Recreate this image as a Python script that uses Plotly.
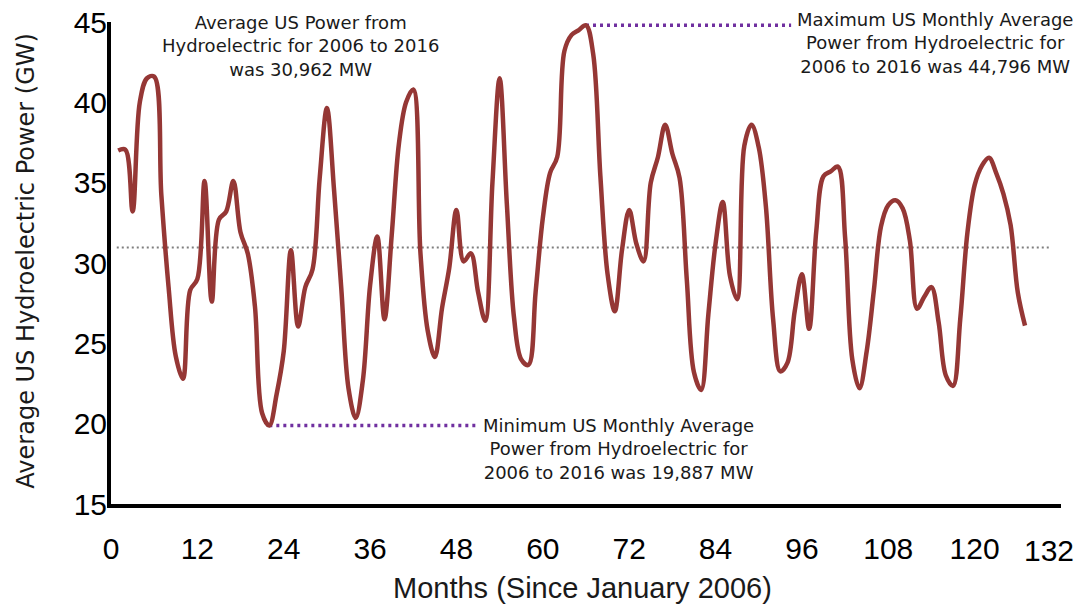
import plotly.graph_objects as go

# ---------------- data ----------------
months = list(range(1, 128))
power_gw = [
    37.0, 37.05, 33.2, 40.0, 41.5, 41.6, 34.2, 28.5, 24.2, 22.8,
    28.3, 29.0, 35.1, 27.6, 32.7, 33.2, 35.1, 31.9, 30.6, 27.3,
    20.65, 19.887, 21.8, 24.5, 30.8, 26.05, 28.5, 29.6, 35.3, 39.65,
    34.5, 28.4, 22.2, 20.35, 22.7, 28.6, 31.65, 26.5, 31.7, 37.4,
    40.0, 40.8, 30.6, 25.8, 24.15, 27.2, 29.7, 33.3, 30.1, 30.6,
    28.2, 26.4, 35.0, 41.5, 33.7, 26.6, 24.0, 23.65, 28.2, 32.8,
    35.6, 36.6, 43.2, 44.2, 44.5, 44.796, 43.0, 35.4, 29.3, 27.0,
    30.8, 33.3, 31.2, 30.1, 35.0, 36.6, 38.6, 36.8, 35.3, 29.0,
    23.2, 22.1, 26.8, 31.2, 33.8, 29.2, 27.75, 37.3, 38.6, 37.2,
    33.5, 26.5, 23.25, 23.8, 27.0, 29.3, 25.9, 32.0, 35.4, 35.7,
    36.0, 31.6, 24.0, 22.2, 24.5, 28.3, 32.3, 33.6, 33.9, 33.4,
    31.4, 27.15, 27.9, 28.5, 26.3, 23.0, 22.35, 26.5, 31.9, 34.85,
    36.05, 36.55, 35.6, 34.3, 32.35, 28.15, 26.1,
]
average_gw = 30.962
min_month, min_gw = 22, 19.887
max_month, max_gw = 66, 44.796
avg_line_months = [0.8, 130.4]
min_line_end_month = 50.8
max_line_end_month = 94.5

x_ticks = list(range(0, 133, 12))
x_tick_labels = [str(v) for v in x_ticks]
y_ticks = [15, 20, 25, 30, 35, 40, 45]

avg_text = "Average US Power from<br>Hydroelectric for 2006 to 2016<br>was 30,962 MW"
max_text = "Maximum US Monthly Average<br>Power from Hydroelectric for<br>2006 to 2016 was 44,796 MW"
min_text = "Minimum US Monthly Average<br>Power from Hydroelectric for<br>2006 to 2016 was 19,887 MW"
x_title = "Months (Since January 2006)"
y_title = "Average US Hydroelectric Power (GW)"

# ---------------- styles ----------------
LINE_COLOR = "#953735"
PURPLE = "#7030A0"
GRAY = "#7F7F7F"
TEXT_COLOR = "#1a1a1a"
TEXT_FONT = "DejaVu Sans, Liberation Sans, sans-serif"
TICK_FONT = "Liberation Sans, Arial, sans-serif"

# the page body adds an 8px offset, so the figure is drawn 8px smaller
PAGE_OFFSET = 8

fig = go.Figure()

fig.add_trace(go.Scatter(
    x=avg_line_months, y=[average_gw, average_gw], mode="lines",
    line=dict(color=GRAY, width=2, dash="2px,3px"), hoverinfo="skip", showlegend=False))
fig.add_trace(go.Scatter(
    x=[min_month, min_line_end_month], y=[min_gw, min_gw], mode="lines",
    line=dict(color=PURPLE, width=3.5, dash="3px,4px"), hoverinfo="skip", showlegend=False))
fig.add_trace(go.Scatter(
    x=[max_month, max_line_end_month], y=[max_gw, max_gw], mode="lines",
    line=dict(color=PURPLE, width=3.5, dash="3px,4px"), hoverinfo="skip", showlegend=False))

fig.add_trace(go.Scatter(
    x=months, y=power_gw, mode="lines",
    line=dict(color=LINE_COLOR, width=4.5, shape="spline", smoothing=1),
    showlegend=False, name="Hydroelectric"))

axis_common = dict(
    showline=True, linecolor="black", linewidth=4, mirror=False,
    showgrid=False, zeroline=False, automargin=False,
    tickcolor="rgba(0,0,0,0)", ticklabeloverflow="allow",
    tickfont=dict(family=TICK_FONT, size=30, color="black"),
)

# last x label ("132") is drawn shifted left so it stays inside the page, as in the original
shown_x_labels = x_tick_labels[:-1] + [""]

fig.update_layout(
    width=1083 - PAGE_OFFSET, height=605 - PAGE_OFFSET,
    margin=dict(l=111 - PAGE_OFFSET, r=22, t=22 - PAGE_OFFSET, b=101),
    paper_bgcolor="white", plot_bgcolor="white",
    xaxis=dict(range=[0, 132], tickvals=x_ticks, ticktext=shown_x_labels,
               ticks="outside", ticklen=15, **axis_common),
    yaxis=dict(range=[15, 45], tickvals=y_ticks, ticks="", ticklabelstandoff=-6,
               **axis_common),
    annotations=[
        dict(text=x_tick_labels[-1], x=x_ticks[-1], y=0, xref="x", yref="paper",
             xanchor="center", yanchor="top", yshift=-28, xshift=-12, showarrow=False,
             font=dict(family=TICK_FONT, size=30, color="black")),
        dict(text=avg_text, x=0.199, y=0.951, xref="paper", yref="paper",
             showarrow=False, xanchor="center", yanchor="middle",
             font=dict(family=TEXT_FONT, size=18, color=TEXT_COLOR)),
        dict(text=max_text, x=0.867, y=0.956, xref="paper", yref="paper",
             showarrow=False, xanchor="center", yanchor="middle",
             font=dict(family=TEXT_FONT, size=18, color=TEXT_COLOR)),
        dict(text=min_text, x=0.5345, y=0.114, xref="paper", yref="paper",
             showarrow=False, xanchor="center", yanchor="middle",
             font=dict(family=TEXT_FONT, size=18, color=TEXT_COLOR)),
        dict(text=x_title, x=0.4966, y=-0.174, xref="paper", yref="paper",
             showarrow=False, xanchor="center", yanchor="middle",
             font=dict(family=TICK_FONT, size=29, color=TEXT_COLOR)),
        dict(text=y_title, x=-0.0894, y=0.505, xref="paper", yref="paper",
             showarrow=False, xanchor="center", yanchor="middle", textangle=-90,
             font=dict(family=TEXT_FONT, size=24, color=TEXT_COLOR)),
    ],
)

fig.write_html("out.html")
